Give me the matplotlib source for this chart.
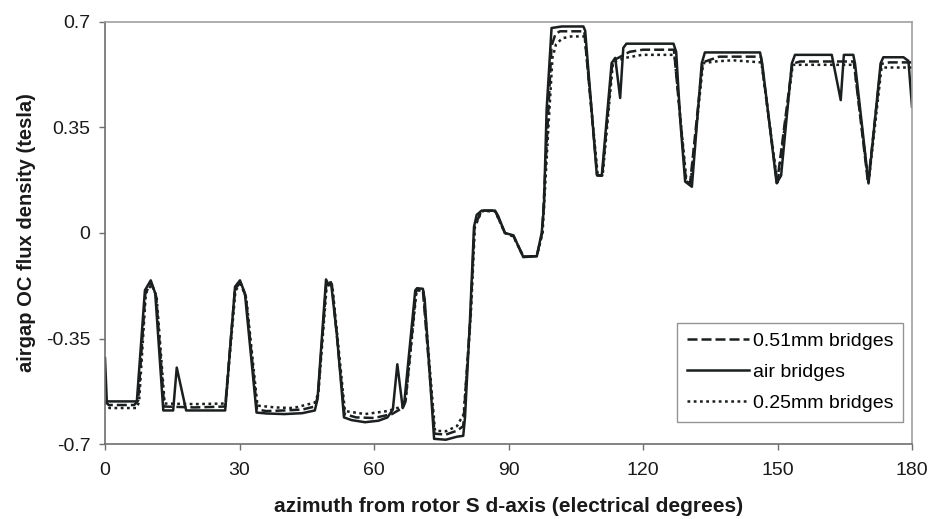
import matplotlib
matplotlib.use("Agg")
import matplotlib.pyplot as plt

plt.rcParams['font.family'] = ['Liberation Sans', 'DejaVu Sans']

# air bridges (solid)
air_x = [0, 0.4, 7.1, 8.9, 10.2, 11.2, 13.0, 15.2, 16.0, 18.1, 26.8, 29.0, 30.1,
         31.2, 33.8, 36, 40, 44, 46.8, 47.4, 49.3, 49.9, 50.4, 51.7, 53.3, 55, 58,
         61, 63.0, 64.2, 65.2, 66.4, 66.7, 69.2, 69.6, 70.9, 71.3, 73.4, 76, 78.5,
         79.9, 80.3, 81.4, 82.3, 82.9, 84.0, 87.0, 87.7, 89.2, 91.1, 93.3, 96.3,
         97.4, 97.9, 98.5, 99.6, 101.9, 106.7, 107.1, 109.7, 110.8, 113.0, 113.8,
         114.9, 115.6, 116.3, 126.8, 127.4, 128.3, 129.4, 130.9, 133.1, 133.8,
         146.1, 146.6, 149.8, 150.8, 153.2, 153.9, 162.1, 164.1, 164.8, 166.9,
         167.3, 170.3, 173.0, 173.6, 178.1, 179.2, 180]
air_y = [-0.415, -0.558, -0.558, -0.19, -0.157, -0.2, -0.588, -0.588, -0.446,
         -0.588, -0.588, -0.178, -0.157, -0.2, -0.595, -0.598, -0.6, -0.597,
         -0.588, -0.55, -0.154, -0.174, -0.163, -0.334, -0.611, -0.62, -0.627,
         -0.622, -0.611, -0.585, -0.435, -0.58, -0.57, -0.19, -0.183, -0.185,
         -0.22, -0.682, -0.685, -0.675, -0.672, -0.61, -0.29, 0.02, 0.06, 0.074,
         0.074, 0.056, 0.0, -0.008, -0.08, -0.077, 0.0, 0.086, 0.408, 0.679,
         0.684, 0.684, 0.67, 0.192, 0.19, 0.563, 0.58, 0.447, 0.613, 0.627, 0.627,
         0.6, 0.374, 0.17, 0.153, 0.562, 0.598, 0.598, 0.56, 0.165, 0.19, 0.562,
         0.59, 0.59, 0.44, 0.59, 0.59, 0.56, 0.164, 0.562, 0.582, 0.582, 0.57,
         0.418]

# 0.51mm bridges (dashed)
b051_x = [0, 0.8, 6.5, 7.4, 9.0, 10.3, 11.4, 13.2, 20, 26.8, 29.0, 30.2, 31.4,
          33.9, 36, 40, 44, 46.8, 47.5, 49.4, 50.6, 53.4, 56, 60, 64, 66.3, 67.0,
          69.4, 70.9, 73.5, 76, 78.5, 79.9, 80.5, 81.5, 82.4, 84.0, 87.0, 89.2,
          91.1, 93.3, 96.3, 97.5, 98.7, 99.6, 100.5, 101.5, 106.9, 109.8, 110.9,
          113.2, 117, 120, 126.9, 129.6, 130.5, 133.3, 137, 146.3, 149.9, 153.3,
          155, 167.0, 170.2, 173.1, 175, 180]
b051_y = [-0.555, -0.57, -0.57, -0.555, -0.2, -0.165, -0.21, -0.575, -0.578,
          -0.575, -0.185, -0.165, -0.21, -0.585, -0.59, -0.588, -0.585, -0.575,
          -0.54, -0.16, -0.17, -0.6, -0.611, -0.613, -0.6, -0.58, -0.56, -0.19,
          -0.19, -0.665, -0.668, -0.655, -0.64, -0.5, -0.28, 0.02, 0.074, 0.074,
          0.0, -0.01, -0.078, -0.077, 0.0, 0.35, 0.62, 0.66, 0.668, 0.668, 0.19,
          0.19, 0.57, 0.6, 0.607, 0.607, 0.17, 0.165, 0.565, 0.584, 0.584, 0.165,
          0.56, 0.568, 0.568, 0.165, 0.56, 0.565, 0.565]

# 0.25mm bridges (dotted)
b025_x = [0, 1.0, 7.0, 7.6, 9.1, 10.4, 11.5, 13.3, 20, 26.9, 29.1, 30.3, 31.5,
          34.0, 38, 42, 46.8, 47.6, 49.5, 50.7, 53.5, 58, 63, 66.3, 67.1, 69.5,
          71.0, 73.6, 76, 78.5, 80.0, 80.6, 81.6, 82.5, 84.0, 87.0, 89.2, 91.1,
          93.3, 96.3, 97.6, 98.9, 99.8, 100.6, 102, 104, 107.0, 109.9, 111.0,
          113.3, 116, 119.8, 127.0, 129.7, 130.6, 133.4, 136, 140, 146.4, 150.0,
          153.4, 167.1, 170.3, 173.2, 180]
b025_y = [-0.56, -0.58, -0.58, -0.56, -0.2, -0.17, -0.21, -0.565, -0.567,
          -0.565, -0.19, -0.17, -0.215, -0.572, -0.578, -0.58, -0.562, -0.53,
          -0.165, -0.175, -0.59, -0.6, -0.59, -0.575, -0.55, -0.19, -0.19,
          -0.655, -0.657, -0.64, -0.6, -0.48, -0.27, 0.02, 0.072, 0.072, 0.0,
          -0.012, -0.078, -0.077, 0.0, 0.35, 0.58, 0.625, 0.645, 0.651, 0.651,
          0.19, 0.19, 0.565, 0.58, 0.59, 0.59, 0.17, 0.165, 0.562, 0.568, 0.572,
          0.565, 0.165, 0.557, 0.557, 0.165, 0.548, 0.548]

line_color = '#1b1f1f'

fig = plt.figure(figsize=(9.31, 5.19), dpi=100)
ax = fig.add_axes([0.1128, 0.144, 0.8668, 0.8143])

ax.plot(b051_x, b051_y, color=line_color, lw=1.8, linestyle=(0, (4.0, 1.6)),
        label='0.51mm bridges')
ax.plot(air_x, air_y, color=line_color, lw=1.8, label='air bridges')
ax.plot(b025_x, b025_y, color=line_color, lw=1.8, linestyle=(0, (1.1, 1.4)),
        label='0.25mm bridges')

ax.set_xlim(0, 180)
ax.set_ylim(-0.7, 0.7)
ax.set_xticks([0, 30, 60, 90, 120, 150, 180])
ax.set_yticks([-0.7, -0.35, 0, 0.35, 0.7])
ax.set_yticklabels(['-0.7', '-0.35', '0', '0.35', '0.7'])

ax.tick_params(direction='out', length=4, width=1, color='#6e6e6e',
               labelsize=14, labelcolor='#1a1a1a')
ax.tick_params(axis='x', pad=9)
ax.tick_params(axis='y', pad=6.5)

for s in ['left', 'bottom']:
    ax.spines[s].set_color('#6e6e6e')
    ax.spines[s].set_linewidth(1.2)
for s in ['top', 'right']:
    ax.spines[s].set_color('#a0a0a0')
    ax.spines[s].set_linewidth(1.2)

ax.set_xlabel('azimuth from rotor S d-axis (electrical degrees)',
              fontsize=15, fontweight='bold', labelpad=13, color='#1a1a1a')
ax.set_ylabel('airgap OC flux density (tesla)', fontsize=14.5,
              fontweight='bold', labelpad=7, color='#1a1a1a')

leg = ax.legend(loc='upper left', bbox_to_anchor=(0.709, 0.287), fontsize=14,
                frameon=True, fancybox=False, handlelength=3.2,
                handletextpad=0.2, labelspacing=0.68, borderpad=0.5,
                borderaxespad=0)
leg.get_frame().set_edgecolor('#7a7a7a')
leg.get_frame().set_linewidth(1.0)

fig.savefig('out.png', dpi=100)
